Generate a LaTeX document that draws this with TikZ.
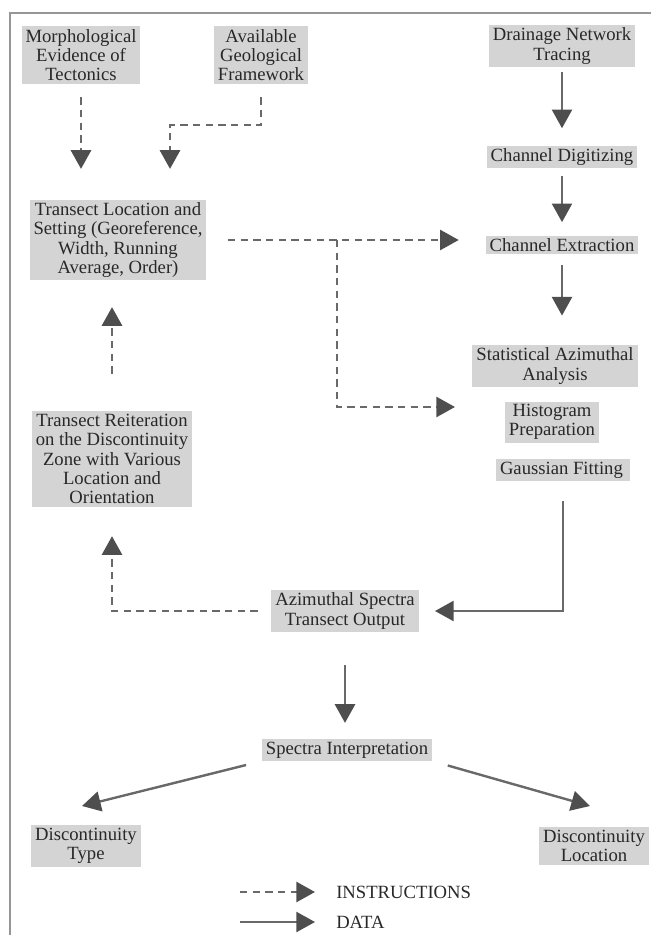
\documentclass[tikz,border=0pt]{standalone}
\usepackage{fontspec}
\setmainfont{Liberation Serif}
\usepackage{xcolor}
\usetikzlibrary{arrows.meta}

\definecolor{boxgray}{RGB}{212,212,212}
\definecolor{linegray}{RGB}{105,105,105}
\definecolor{tipgray}{RGB}{78,78,78}
\definecolor{framegray}{RGB}{150,150,150}
\definecolor{textgray}{RGB}{40,40,40}

\tikzset{
  stepbox/.style={fill=boxgray, text=textgray, inner xsep=3pt, inner ysep=2pt, align=center, font=\fontsize{14}{14.5}\selectfont},
  plainlabel/.style={text=textgray, inner sep=0.75pt, font=\fontsize{14}{14.5}\selectfont},
  instr/.style={draw=linegray, line width=2pt, dash pattern=on 5.5pt off 4pt, -{Triangle[width=15pt,length=14pt,color=tipgray]}},
  data/.style={draw=linegray, line width=1.8pt, -{Triangle[width=15pt,length=14pt,color=tipgray]}}
}

\begin{document}
\begin{tikzpicture}[x=0.75pt,y=0.75pt,yscale=-1,xscale=1]
\useasboundingbox (0,0) rectangle (651,935);

%Frame [top and left edge]
\draw[framegray, line width=1.5pt] (10,935) -- (10,13) -- (651,13);

% Text Node
\node (morph) [stepbox] at (81,55) {Morphological\\Evidence of\\Tectonics};
% Text Node
\node (avail) [stepbox] at (261,55) {Available\\Geological\\Framework};
% Text Node
\node (drain) [stepbox] at (562,46) {Drainage Network\\Tracing};
% Text Node
\node (chdig) [stepbox] at (562,157) {Channel Digitizing};
% Text Node
\node (chext) [stepbox] at (562,245) {Channel Extraction};
% Text Node
\node (stat) [stepbox] at (555,366) {Statistical Azimuthal\\Analysis};
% Text Node
\node (hist) [stepbox] at (552,422) {Histogram\\Preparation};
% Text Node
\node (gauss) [stepbox] at (563,470) {Gaussian Fitting\,};
% Text Node
\node (tloc) [stepbox] at (118,240) {Transect Location and\\Setting (Georeference,\\Width, Running\\Average, Order)};
% Text Node
\node (reiter) [stepbox] at (112,459) {Transect Reiteration\\on the Discontinuity\\Zone with Various\\Location and\\Orientation};
% Text Node
\node (out) [stepbox] at (345,611) {Azimuthal Spectra\\Transect Output};
% Text Node
\node (spec) [stepbox] at (347,750) {Spectra Interpretation};
% Text Node
\node (dtype) [stepbox] at (86,846) {Discontinuity\\Type};
% Text Node
\node (dloc) [stepbox] at (594,846) {Discontinuity\\Location};

%Dashed Lines [instructions]
\draw[instr, shorten <=10pt, shorten >=23pt] (morph.south) -- (morph.south |- tloc.north);
\coordinate (availbend) at (170,125);
\draw[instr, shorten <=10pt, shorten >=23pt] (avail.south) |- (availbend) -- (availbend |- tloc.north);
\draw[instr, shorten <=16pt, shorten >=20pt] (tloc.east) -- (tloc.east -| chext.west);
\coordinate (split) at (337,240);
\coordinate (histin) at (455,407);
\draw[instr] (split) |- (histin);
\draw[instr, shorten <=28pt, shorten >=20pt] (reiter.north) -- (reiter.north |- tloc.south);
\draw[instr, shorten <=10pt, shorten >=22pt] (out.west) -| (reiter.south);

%Straight Lines [data]
\draw[data, shorten <=4pt, shorten >=13pt] (drain.south) -- (chdig.north);
\draw[data, shorten <=6pt, shorten >=10pt] (chdig.south) -- (chext.north);
\draw[data, shorten <=8pt, shorten >=22pt] (chext.south) -- (chext.south |- stat.north);
\draw[data, shorten <=15pt, shorten >=12pt] (gauss.south) |- (out.east);
\draw[data, shorten <=25pt, shorten >=12pt] (out.south) -- (out.south |- spec.north);
\coordinate (typein) at (82,806);
\coordinate (locin) at (590,806);
\draw[data, shorten <=12pt] (spec.south west) -- (typein);
\draw[data, shorten <=12pt] (spec.south east) -- (locin);

% Legend
\node (legins) [plainlabel, anchor=west] at (335,892) {INSTRUCTIONS};
\node (legdata) [plainlabel, anchor=west] at (335,922) {DATA};
\coordinate (insstart) at (240,892);
\coordinate (datastart) at (240,922);
\draw[instr, shorten >=15pt] (insstart) -- (legins.west);
\draw[data, shorten >=15pt] (datastart) -- (legdata.west);

\end{tikzpicture}
\end{document}
